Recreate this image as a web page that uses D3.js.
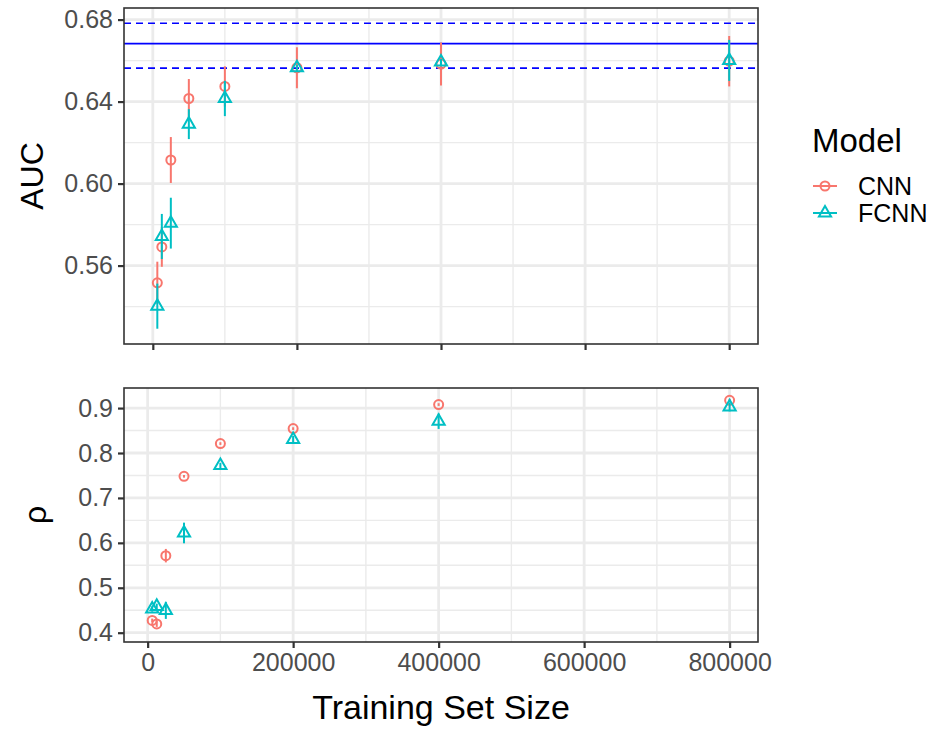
<!DOCTYPE html>
<html>
<head>
<meta charset="utf-8">
<script src="https://cdn.jsdelivr.net/npm/d3@7"></script>
<style>
  body { margin: 0; background: #fff; }
  svg { font-family: "Liberation Sans", Arial, sans-serif; }
</style>
</head>
<body>
<script>
// --- data ---
const sizes = [6250, 12500, 25000, 50000, 100000, 200000, 400000, 800000];
const models = ["CNN", "FCNN"];
const colors = { CNN: "#F8766D", FCNN: "#00BFC4" };

// AUC (top panel)
const aucCNN    = [0.5516, 0.5691, 0.6115, 0.6415, 0.6474, 0.6565, 0.6583, 0.6597];
const aucCNNerr = [0.0103, 0.0097, 0.0112, 0.0095, 0.0098, 0.0100, 0.0105, 0.0123];
const aucFCNN    = [0.5402, 0.5742, 0.5807, 0.6290, 0.6415, 0.6565, 0.6593, 0.6601];
const aucFCNNerr = [0.0110, 0.0110, 0.0124, 0.0073, 0.0086, 0.0015, 0.0015, 0.0100];
const refMean = 0.6683, refLow = 0.6563, refHigh = 0.6782;

// rho (bottom panel)
const rhoCNN    = [0.4274, 0.4194, 0.5715, 0.7481, 0.8210, 0.8543, 0.9078, 0.9174];
const rhoCNNerr = [0.0040, 0.0065, 0.0150, 0.0030, 0.0030, 0.0030, 0.0030, 0.0030];
const rhoFCNN    = [0.4528, 0.4586, 0.4497, 0.6220, 0.7720, 0.8300, 0.8706, 0.9027];
const rhoFCNNerr = [0.0060, 0.0060, 0.0190, 0.0230, 0.0060, 0.0080, 0.0170, 0.0100];

const aucTicks = [0.56, 0.60, 0.64, 0.68];
const aucMinor = [0.54, 0.58, 0.62, 0.66];
const rhoTicks = [0.4, 0.5, 0.6, 0.7, 0.8, 0.9];
const rhoMinor = [0.45, 0.55, 0.65, 0.75, 0.85];
const xTicks = [0, 200000, 400000, 600000, 800000];
const xMinor = [100000, 300000, 500000, 700000];

// --- layout ---
const W = 936, H = 730;
const svg = d3.select("body").append("svg").attr("width", W).attr("height", H);

const expand = (lo, hi) => { const r = hi - lo; return [lo - r * 0.05, hi + r * 0.05]; };

function toRows(vals, errs) {
  return sizes.map((s, i) => ({ x: s, y: vals[i], e: errs[i] }));
}

function panel(opts) {
  const { top, bottom, xDom, yDom, yTicks, yMinor, yFmt, showXLabels, series, title, hlines } = opts;
  const left = 124, right = 758;
  const x = d3.scaleLinear().domain(xDom).range([left, right]);
  const y = d3.scaleLinear().domain(yDom).range([bottom, top]);
  const g = svg.append("g");

  // grid
  g.selectAll(".ymin").data(yMinor).join("line")
    .attr("x1", left).attr("x2", right).attr("y1", d => y(d)).attr("y2", d => y(d))
    .attr("stroke", "#EBEBEB").attr("stroke-width", 1.4);
  g.selectAll(".xmin").data(xMinor).join("line")
    .attr("y1", top).attr("y2", bottom).attr("x1", d => x(d)).attr("x2", d => x(d))
    .attr("stroke", "#EBEBEB").attr("stroke-width", 1.4);
  g.selectAll(".ymaj").data(yTicks).join("line")
    .attr("x1", left).attr("x2", right).attr("y1", d => y(d)).attr("y2", d => y(d))
    .attr("stroke", "#EBEBEB").attr("stroke-width", 2.8);
  g.selectAll(".xmaj").data(xTicks).join("line")
    .attr("y1", top).attr("y2", bottom).attr("x1", d => x(d)).attr("x2", d => x(d))
    .attr("stroke", "#EBEBEB").attr("stroke-width", 2.8);

  // reference lines
  (hlines || []).forEach(h => {
    g.append("line")
      .attr("x1", left).attr("x2", right).attr("y1", y(h.v)).attr("y2", y(h.v))
      .attr("stroke", "#0000FF").attr("stroke-width", 1.7)
      .attr("stroke-dasharray", h.dash ? "7,5" : null);
  });

  // error bars and points
  series.forEach(s => {
    const c = colors[s.model];
    g.selectAll(null).data(s.rows).join("line")
      .attr("x1", d => x(d.x)).attr("x2", d => x(d.x))
      .attr("y1", d => y(d.y - d.e)).attr("y2", d => y(d.y + d.e))
      .attr("stroke", c).attr("stroke-width", 2);
    if (s.model === "CNN") {
      g.selectAll(null).data(s.rows).join("circle")
        .attr("cx", d => x(d.x)).attr("cy", d => y(d.y)).attr("r", 4.5)
        .attr("fill", "none").attr("stroke", c).attr("stroke-width", 2);
    } else {
      g.selectAll(null).data(s.rows).join("path")
        .attr("transform", d => `translate(${x(d.x)},${y(d.y)})`)
        .attr("d", d3.symbol(d3.symbolTriangle, 64))
        .attr("fill", "none").attr("stroke", c).attr("stroke-width", 2);
    }
  });

  // border
  g.append("rect").attr("x", left).attr("y", top)
    .attr("width", right - left).attr("height", bottom - top)
    .attr("fill", "none").attr("stroke", "#333333").attr("stroke-width", 1.6);

  // axes
  const yAxis = g.append("g").attr("transform", `translate(${left},0)`)
    .call(d3.axisLeft(y).tickValues(yTicks).tickFormat(yFmt).tickSize(6).tickPadding(5));
  yAxis.select(".domain").remove();
  yAxis.selectAll(".tick line").attr("stroke", "#333333").attr("stroke-width", 2.2);
  yAxis.selectAll(".tick text").attr("fill", "#4D4D4D").style("font-size", "25px");

  const xAxis = g.append("g").attr("transform", `translate(0,${bottom})`)
    .call(d3.axisBottom(x).tickValues(xTicks).tickFormat(showXLabels ? d3.format("d") : "").tickSize(6).tickPadding(5));
  xAxis.select(".domain").remove();
  xAxis.selectAll(".tick line").attr("stroke", "#333333").attr("stroke-width", 2.2);
  xAxis.selectAll(".tick text").attr("fill", "#4D4D4D").style("font-size", "25px");

  g.append("text")
    .attr("transform", `translate(${opts.titleX},${(top + bottom) / 2}) rotate(-90)`)
    .attr("text-anchor", "middle").attr("fill", "#000")
    .style("font-size", "32px").text(title);
}

panel({
  top: 8, bottom: 344,
  xDom: expand(0, 800000),
  yDom: expand(0.5292, 0.6782),
  yTicks: aucTicks, yMinor: aucMinor, yFmt: d3.format(".2f"),
  showXLabels: false,
  title: "AUC", titleX: 43,
  hlines: [{ v: refHigh, dash: true }, { v: refMean, dash: false }, { v: refLow, dash: true }],
  series: [
    { model: "CNN", rows: toRows(aucCNN, aucCNNerr) },
    { model: "FCNN", rows: toRows(aucFCNN, aucFCNNerr) }
  ]
});

panel({
  top: 388, bottom: 642,
  xDom: [-32500, 839000],
  yDom: expand(0.405, 0.919),
  yTicks: rhoTicks, yMinor: rhoMinor, yFmt: d3.format(".1f"),
  showXLabels: true,
  title: "ρ", titleX: 46,
  series: [
    { model: "CNN", rows: toRows(rhoCNN, rhoCNNerr) },
    { model: "FCNN", rows: toRows(rhoFCNN, rhoFCNNerr) }
  ]
});

// x title
svg.append("text").attr("x", 441).attr("y", 719).attr("text-anchor", "middle")
  .style("font-size", "34px").attr("fill", "#000").text("Training Set Size");

// legend
const leg = svg.append("g").attr("transform", "translate(812,0)");
leg.append("text").attr("x", 0).attr("y", 152).style("font-size", "33px").attr("fill", "#000").text("Model");
models.forEach((m, i) => {
  const cy = 186 + i * 27;
  leg.append("line").attr("x1", 1).attr("x2", 25).attr("y1", cy).attr("y2", cy)
    .attr("stroke", colors[m]).attr("stroke-width", 2);
  if (m === "CNN") {
    leg.append("circle").attr("cx", 13).attr("cy", cy).attr("r", 4.5)
      .attr("fill", "none").attr("stroke", colors[m]).attr("stroke-width", 2);
  } else {
    leg.append("path").attr("transform", `translate(13,${cy})`)
      .attr("d", d3.symbol(d3.symbolTriangle, 64))
      .attr("fill", "none").attr("stroke", colors[m]).attr("stroke-width", 2);
  }
  leg.append("text").attr("x", 46).attr("y", cy + 9).style("font-size", "25px")
    .attr("fill", "#000").text(m);
});
</script>
</body>
</html>
